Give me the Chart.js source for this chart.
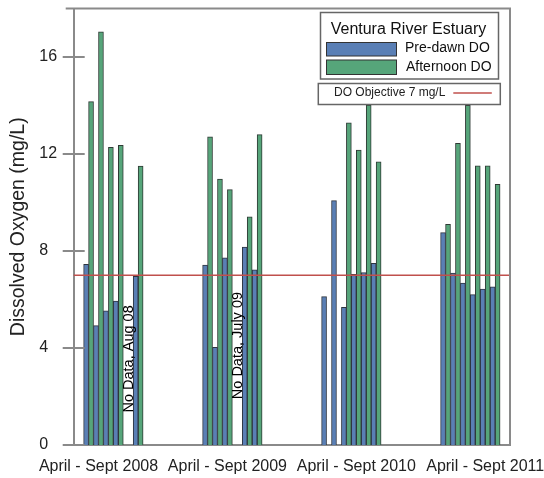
<!DOCTYPE html>
<html><head><meta charset="utf-8">
<script src="https://cdn.jsdelivr.net/npm/chart.js@4.4.0/dist/chart.umd.min.js"></script>
<style>html,body{margin:0;padding:0;background:#fff}</style>
</head><body>
<canvas id="c" width="544" height="478"></canvas>
<script>
// ---------- data ----------
const seasons = ['April - Sept 2008', 'April - Sept 2009', 'April - Sept 2010', 'April - Sept 2011'];
const months = ['Apr', 'May', 'Jun', 'Jul', 'Aug', 'Sep'];
const preDawn2008   = [7.45, 4.92, 5.53, 5.94, null, 6.96];
const afternoon2008 = [14.16, 17.04, 12.28, 12.36, null, 11.5];
const preDawn2009   = [7.42, 4.03, 7.72, null, 8.16, 7.22];
const afternoon2009 = [12.71, 10.97, 10.53, null, 9.41, 12.8];
const preDawn2010   = [6.12, 10.08, 5.68, 7.04, 7.11, 7.49];
const afternoon2010 = [null, null, 13.29, 12.16, 14.02, 11.68];
const preDawn2011   = [8.76, 7.09, 6.68, 6.20, 6.43, 6.52];
const afternoon2011 = [9.10, 12.44, 14.01, 11.51, 11.51, 10.75];
const doObjective = 7;
const yLabelStep = 4;
const noDataNotes = [
  {season: 0, month: 4, text: 'No Data, Aug 08'},
  {season: 1, month: 3, text: 'No Data, July 09'}
];

// ---------- layout / style ----------
const FONT = "'Liberation Sans', Arial, sans-serif";
const AXIS = '#8a8a8a';
const BLUE = '#5a7fb5';
const GREEN = '#56a57a';
const RED = '#c0504d';
const GAP = 6;             // empty month slots between seasons
const NOTE_AT = [3.55, 4.1];

const preDawn = [preDawn2008, preDawn2009, preDawn2010, preDawn2011];
const afternoon = [afternoon2008, afternoon2009, afternoon2010, afternoon2011];
const slotLabels = [], preSlots = [], aftSlots = [];
function pushEmpty(){ slotLabels.push(''); preSlots.push(null); aftSlots.push(null); }
pushEmpty();
seasons.forEach((s, g) => {
  months.forEach((m, i) => {
    slotLabels.push(m + ' ' + s.slice(-4));
    preSlots.push(preDawn[g][i]);
    aftSlots.push(afternoon[g][i]);
  });
  const n = g < seasons.length - 1 ? GAP : 1;
  for (let k = 0; k < n; k++) pushEmpty();
});
// season label tick positions (original spreads labels slightly wider than the groups)
const seasonTick = {};
seasons.forEach((s, g) => { seasonTick[1 + g * 13 + 1] = s; });

const slotOf = (season, month) => 1 + season * (months.length + GAP) + month;

const decor = {
  id: 'decor',
  afterDatasetsDraw(chart) {
    const {ctx, chartArea: a, scales: {x, y}} = chart;
    ctx.save();
    const yo = y.getPixelForValue(doObjective);
    ctx.strokeStyle = RED; ctx.lineWidth = 1.3;
    ctx.beginPath(); ctx.moveTo(a.left, yo); ctx.lineTo(a.right, yo); ctx.stroke();
    ctx.fillStyle = '#000';
    ctx.font = '14.5px ' + FONT;
    ctx.textAlign = 'center'; ctx.textBaseline = 'middle';
    noDataNotes.forEach((n, i) => {
      const px = x.getPixelForValue(slotOf(n.season, n.month));
      const py = y.getPixelForValue(NOTE_AT[i]);
      ctx.save(); ctx.translate(px + 0.5, py); ctx.rotate(-Math.PI / 2);
      ctx.fillText(n.text, 0, 0); ctx.restore();
    });
    ctx.restore();
  },
  afterDraw(chart) {
    const {ctx, chartArea: a, scales: {y}} = chart;
    ctx.save();
    ctx.strokeStyle = AXIS; ctx.lineWidth = 2;
    // frame top & right
    ctx.beginPath();
    ctx.moveTo(a.left - 8, a.top); ctx.lineTo(a.right, a.top); ctx.lineTo(a.right, a.bottom);
    ctx.stroke();
    // crossing ticks
    y.ticks.forEach(t => {
      const py = Math.round(y.getPixelForValue(t.value));
      const major = t.value % yLabelStep === 0;
      const l = major ? 11 : 8, r = major ? 11 : 8;
      ctx.beginPath(); ctx.moveTo(a.left - l, py); ctx.lineTo(a.left + r, py); ctx.stroke();
    });
    // legend box 1
    const L = a.right - 189.5, T = a.top + 4;
    ctx.fillStyle = '#fff';
    ctx.fillRect(L, T, 178, 66.5);
    ctx.strokeStyle = '#666'; ctx.lineWidth = 1.5;
    ctx.strokeRect(L, T, 178, 66.5);
    ctx.fillStyle = '#111';
    ctx.font = '16px ' + FONT; ctx.textAlign = 'center'; ctx.textBaseline = 'middle';
    ctx.fillText('Ventura River Estuary', L + 88, T + 17);
    ctx.lineWidth = 1;
    ctx.strokeStyle = '#333';
    ctx.fillStyle = BLUE; ctx.fillRect(L + 6, T + 30, 70, 13.5); ctx.strokeRect(L + 6, T + 30, 70, 13.5);
    ctx.fillStyle = GREEN; ctx.fillRect(L + 6, T + 47.5, 70, 14.5); ctx.strokeRect(L + 6, T + 47.5, 70, 14.5);
    ctx.fillStyle = '#111'; ctx.font = '14px ' + FONT; ctx.textAlign = 'left';
    ctx.fillText('Pre-dawn DO', L + 84.5, T + 36);
    ctx.fillText('Afternoon DO', L + 85.5, T + 55);
    // legend box 2
    const L2 = a.right - 191.7, T2 = a.top + 75;
    ctx.fillStyle = '#fff'; ctx.fillRect(L2, T2, 182, 21);
    ctx.strokeStyle = '#666'; ctx.lineWidth = 1.5; ctx.strokeRect(L2, T2, 182, 21);
    ctx.fillStyle = '#222'; ctx.font = '12px ' + FONT;
    ctx.fillText('DO Objective 7 mg/L', L2 + 15.7, T2 + 9.5);
    ctx.strokeStyle = RED; ctx.lineWidth = 1.3;
    ctx.beginPath(); ctx.moveTo(L2 + 135, T2 + 9.5); ctx.lineTo(L2 + 173.5, T2 + 9.5); ctx.stroke();
    ctx.restore();
  }
};

new Chart(document.getElementById('c'), {
  type: 'bar',
  data: {
    labels: slotLabels,
    datasets: [
      {label: 'Pre-dawn DO', data: preSlots, backgroundColor: BLUE, borderColor: '#2e3540', borderWidth: 1},
      {label: 'Afternoon DO', data: aftSlots, backgroundColor: GREEN, borderColor: '#2f3a35', borderWidth: 1}
    ]
  },
  options: {
    responsive: false,
    animation: false,
    devicePixelRatio: 1,
    layout: {padding: {top: 8.5, right: 34, left: 0, bottom: 0}},
    datasets: {bar: {categoryPercentage: 1, barPercentage: 1}},
    plugins: {
      legend: {display: false},
      tooltip: {enabled: false},
      title: {
        display: true, position: 'left', fullSize: false,
        text: 'Dissolved Oxygen (mg/L)',
        color: '#222',
        font: {family: FONT, size: 19.5, weight: 'normal', lineHeight: 1.2},
        padding: {top: 7.3, bottom: 8.6}
      }
    },
    scales: {
      x: {
        grid: {display: false, drawTicks: false},
        border: {display: true, color: AXIS, width: 2},
        ticks: {
          autoSkip: false, maxRotation: 0, minRotation: 0, padding: 12,
          color: '#222', font: {family: FONT, size: 16},
          callback: (v, i) => (seasonTick[i] !== undefined ? seasonTick[i] : null)
        },
        afterFit: s => { s.height = 33; s.paddingLeft = 0; s.paddingRight = 0; }
      },
      y: {
        min: 0, max: 18,
        grid: {display: false, drawTicks: false},
        border: {display: true, color: AXIS, width: 2},
        ticks: {
          stepSize: 2, autoSkip: false, crossAlign: 'far',
          color: '#222', font: {family: FONT, size: 16},
          callback: v => (v % yLabelStep === 0 ? String(v) : null)
        },
        afterFit: s => { s.width = 34.4; s.paddingTop = 0; s.paddingBottom = 0; }
      }
    }
  },
  plugins: [decor]
});
</script>
</body></html>
